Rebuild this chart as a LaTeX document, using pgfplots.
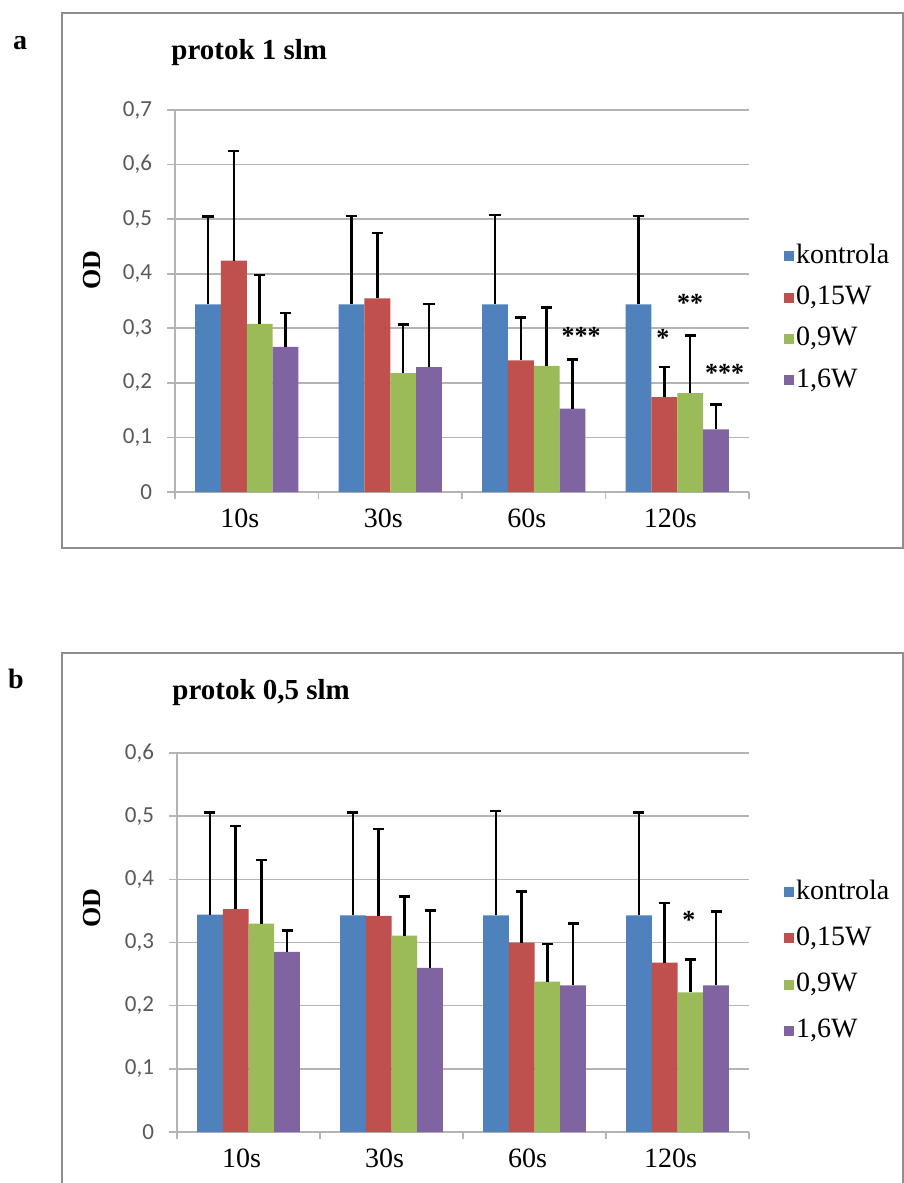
\documentclass[border=0pt]{standalone}
\usepackage{pgfplots}
\pgfplotsset{compat=1.18}
\usepackage{pgfplotstable}
\usepackage{fontspec}
\setmainfont{Liberation Serif}
\newfontfamily\carlito{Carlito}
\definecolor{cblue}{HTML}{4F81BD}
\definecolor{cred}{HTML}{C0504D}
\definecolor{cgreen}{HTML}{9BBB59}
\definecolor{cpurple}{HTML}{8064A2}
\definecolor{framegray}{HTML}{8E8E8E}
\definecolor{gridgray}{HTML}{B4B4B4}
\definecolor{ticktext}{HTML}{595959}

% panel a: protok 1 slm  (value, upper error)
\pgfplotstableread{
x k ke r re g ge p pe
0 0.344 0.161 0.424 0.201 0.308 0.090 0.266 0.062
1 0.344 0.162 0.355 0.120 0.218 0.089 0.229 0.115
2 0.344 0.164 0.241 0.079 0.231 0.107 0.153 0.090
3 0.344 0.162 0.174 0.055 0.181 0.106 0.115 0.045
}\dataA
% panel b: protok 0,5 slm
\pgfplotstableread{
x k ke r re g ge p pe
0 0.344 0.162 0.353 0.131 0.330 0.101 0.285 0.034
1 0.343 0.163 0.342 0.138 0.311 0.062 0.260 0.091
2 0.343 0.165 0.300 0.081 0.238 0.060 0.232 0.098
3 0.343 0.163 0.268 0.095 0.221 0.052 0.232 0.117
}\dataB

\tikzset{star/.style={font=\fontsize{13}{15}\selectfont\bfseries, yshift=-1.5pt}}

\pgfplotsset{
  panel/.style={
    scale only axis, ybar=0pt, bar width=0.18,
    xmin=-0.5, xmax=3.5, ymin=0,
    axis x line*=bottom, axis y line*=left,
    axis line style={gridgray, line width=0.8pt, -},
    xtick={0,1,2,3}, xticklabels={10s,30s,60s,120s},
    minor xtick={-0.5,0.5,1.5,2.5,3.5},
    tick align=outside, major tick length=4pt, minor tick length=3.5pt,
    major x tick style={draw=none},
    minor x tick style={gridgray, line width=0.8pt},
    ytick style={gridgray, line width=0.8pt},
    ymajorgrids, grid style={gridgray, line width=0.8pt},
    xticklabel style={font=\fontsize{14}{16}\selectfont, text=black, yshift=-1pt, xshift=-3.5pt},
    yticklabel style={font=\carlito\fontsize{11.5}{13}\selectfont, text=ticktext, xshift=-4pt,
      /pgf/number format/.cd, fixed, precision=1, use comma, assume math mode=true},
    ylabel={OD},
    ylabel style={font=\fontsize{13}{15}\selectfont\bfseries, anchor=center},
    legend image code/.code={\fill[##1] (0pt,-2.5pt) rectangle (5pt,2.5pt);},
    legend cell align=left,
  },
  ebar/.style={draw=none,
    error bars/.cd, y dir=plus, y explicit,
    error bar style={draw=black, line width=1.2pt},
    error mark options={draw=black, line width=1.2pt, mark size=2.8pt, rotate=90}},
}

\begin{document}
\begin{tikzpicture}
\useasboundingbox (0,0) rectangle (452pt,-591.5pt);
\fill[white] (0,0) rectangle (452pt,-591.5pt);
% frames
\draw[framegray, line width=1pt] (31pt,-6.5pt) rectangle (451.5pt,-274pt);
\draw[framegray, line width=1pt] (31pt,-595pt) -- (31pt,-326.5pt) -- (451.5pt,-326.5pt) -- (451.5pt,-595pt);
% panel letters and titles
\node[font=\fontsize{14}{16}\selectfont\bfseries] at (10pt,-21.5pt) {a};
\node[font=\fontsize{14}{16}\selectfont\bfseries] at (8pt,-339.5pt) {b};
\node[anchor=west, inner sep=0pt, font=\fontsize{14.5}{16}\selectfont\bfseries] at (85.5pt,-26.5pt) {protok 1 slm};
\node[anchor=west, inner sep=0pt, font=\fontsize{14.5}{16}\selectfont\bfseries] at (86pt,-346.5pt) {protok 0,5 slm};

% ---------- panel a ----------
\begin{axis}[panel, at={(87.5pt,-246pt)}, anchor=south west,
  width=287pt, height=191pt, ymax=0.7,
  ytick={0,0.1,0.2,0.3,0.4,0.5,0.6,0.7},
  ylabel style={at={(axis description cs:-0.145,0.58)}},
  legend style={at={(1,0.455)}, anchor=west, xshift=17.5pt, draw=none, fill=none,
    inner sep=0pt, font=\fontsize{14}{16}\selectfont, row sep=7pt,
    nodes={inner sep=0.8pt, text height=9.5pt, text depth=2.5pt},
    /tikz/every even column/.append style={column sep=4.5pt}},
]
\addplot[fill=cblue, ebar] table[x=x, y=k, y error=ke] {\dataA};
\addplot[fill=cred, ebar] table[x=x, y=r, y error=re] {\dataA};
\addplot[fill=cgreen, ebar] table[x=x, y=g, y error=ge] {\dataA};
\addplot[fill=cpurple, ebar] table[x=x, y=p, y error=pe] {\dataA};
\legend{kontrola,{0,15W},{0,9W},{1,6W}}
\node[star] at (axis cs:2.33,0.291) {***};
\node[star] at (axis cs:3.09,0.352) {**};
\node[star] at (axis cs:2.90,0.288) {*};
\node[star] at (axis cs:3.33,0.223) {***};
\end{axis}

% ---------- panel b ----------
\begin{axis}[panel, at={(88.5pt,-566pt)}, anchor=south west,
  width=286pt, height=189.5pt, ymax=0.6,
  ytick={0,0.1,0.2,0.3,0.4,0.5,0.6},
  ylabel style={at={(axis description cs:-0.149,0.59)}},
  legend style={at={(1,0.45)}, anchor=west, xshift=17.5pt, draw=none, fill=none,
    inner sep=0pt, font=\fontsize{14}{16}\selectfont, row sep=9.5pt,
    nodes={inner sep=0.8pt, text height=9.5pt, text depth=2.5pt},
    /tikz/every even column/.append style={column sep=4.5pt}},
]
\addplot[fill=cblue, ebar] table[x=x, y=k, y error=ke] {\dataB};
\addplot[fill=cred, ebar] table[x=x, y=r, y error=re] {\dataB};
\addplot[fill=cgreen, ebar] table[x=x, y=g, y error=ge] {\dataB};
\addplot[fill=cpurple, ebar] table[x=x, y=p, y error=pe] {\dataB};
\legend{kontrola,{0,15W},{0,9W},{1,6W}}
\node[star] at (axis cs:3.08,0.341) {*};
\end{axis}
\end{tikzpicture}
\end{document}
